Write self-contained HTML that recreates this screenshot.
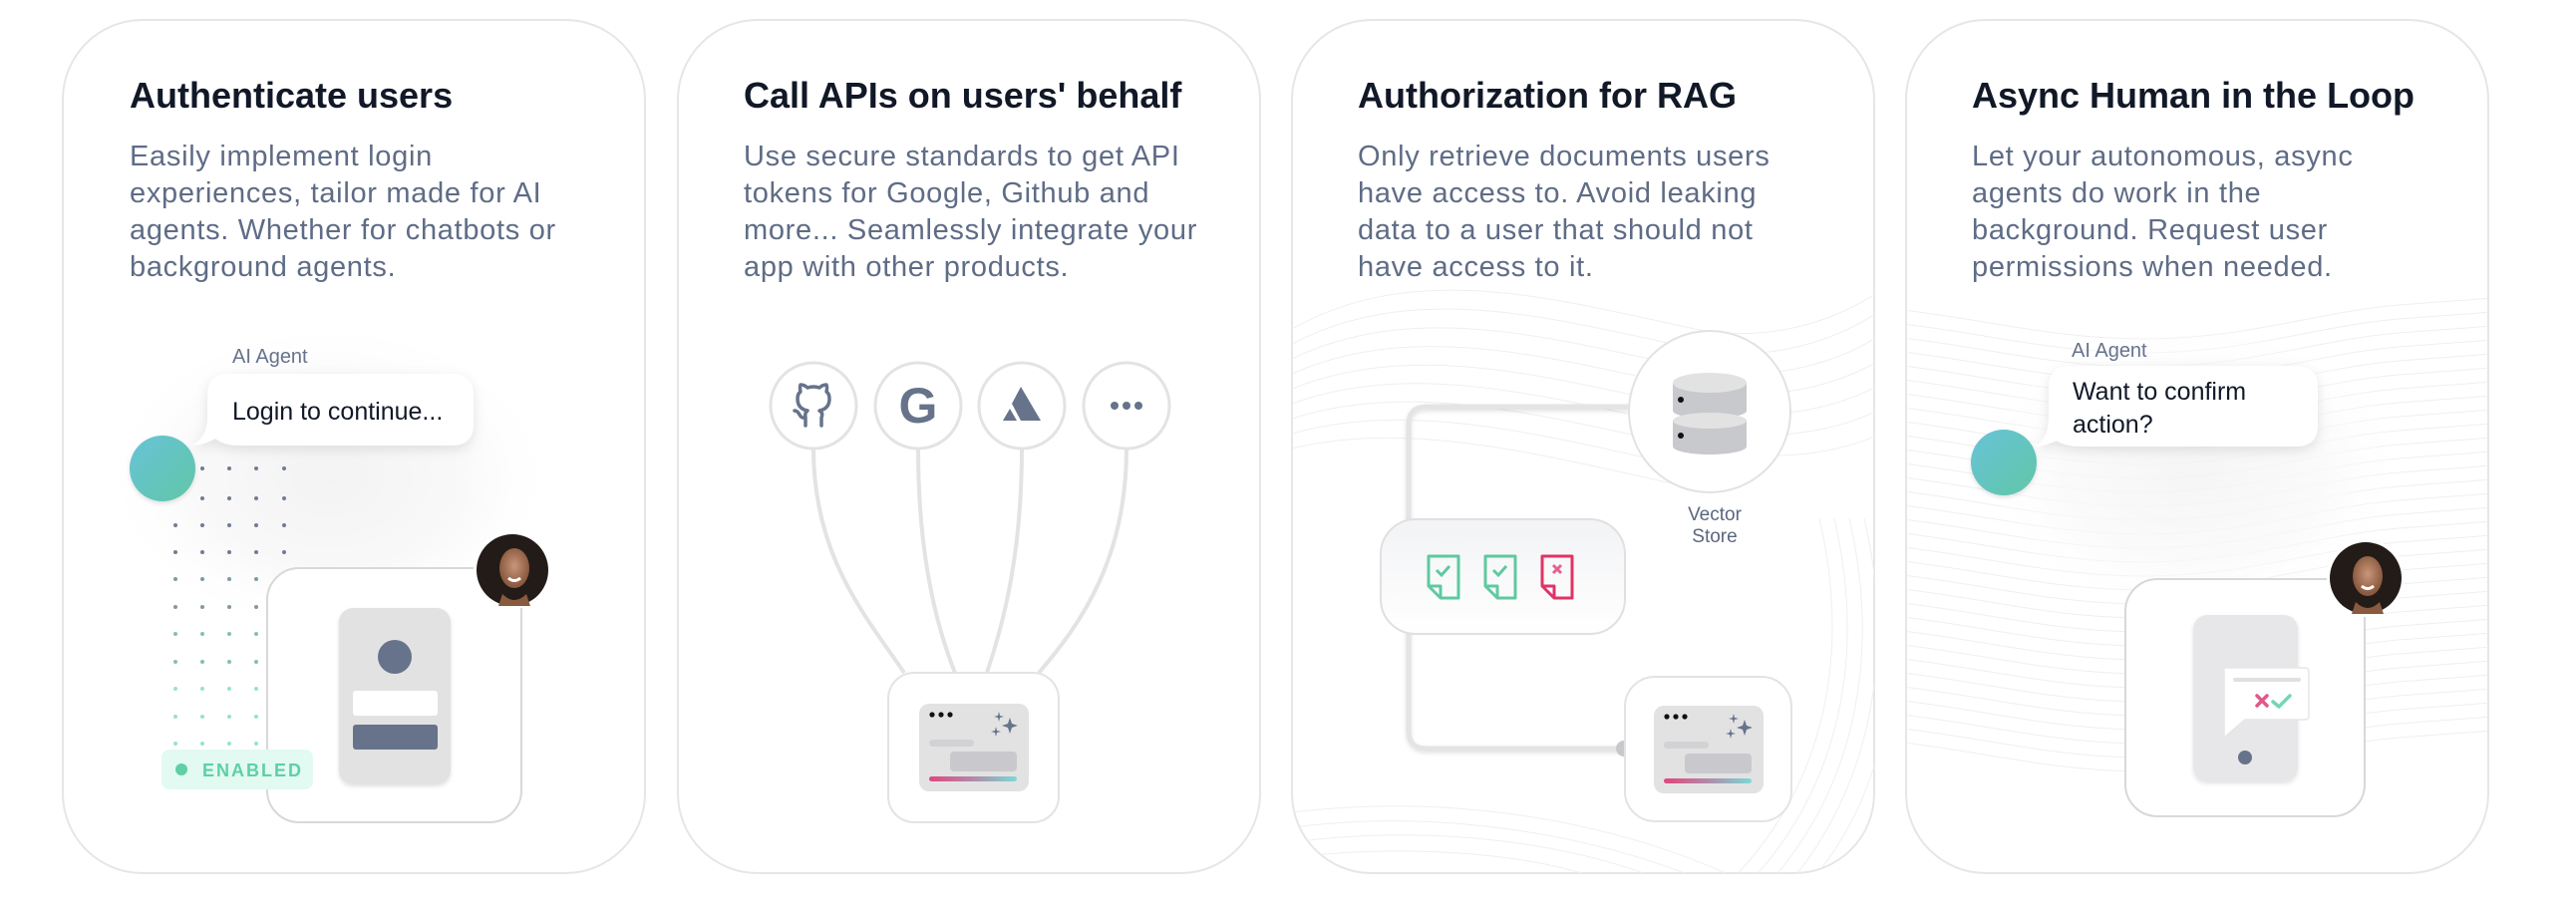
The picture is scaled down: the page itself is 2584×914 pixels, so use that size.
<!DOCTYPE html>
<html><head><meta charset="utf-8">
<style>
html,body{margin:0;padding:0;background:#fff;}
svg{display:block;}
text{font-family:"Liberation Sans",sans-serif;}
.t{font-size:36px;font-weight:bold;fill:#111827;}
.d{font-size:29px;fill:#5f6c86;letter-spacing:0.7px;}
</style></head>
<body>
<svg width="2584" height="914" viewBox="0 0 2584 914" xmlns="http://www.w3.org/2000/svg">
<defs>
  <linearGradient id="teal" x1="0" y1="0" x2="1" y2="1"><stop offset="0" stop-color="#67c3d8"/><stop offset="1" stop-color="#62c6a6"/></linearGradient>
  <linearGradient id="bar" x1="0" y1="0" x2="1" y2="0"><stop offset="0" stop-color="#e1467c"/><stop offset="0.5" stop-color="#b08aa8"/><stop offset="1" stop-color="#7dd8d8"/></linearGradient>
  <linearGradient id="docbox" x1="0" y1="0" x2="0" y2="1"><stop offset="0" stop-color="#f2f3f5"/><stop offset="1" stop-color="#ffffff"/></linearGradient>
  <radialGradient id="glow" cx="0.5" cy="0.5" r="0.5"><stop offset="0" stop-color="#f3f3f3"/><stop offset="0.6" stop-color="#f9f9f9"/><stop offset="1" stop-color="#ffffff" stop-opacity="0"/></radialGradient>
  <radialGradient id="face" cx="0.5" cy="0.45" r="0.5"><stop offset="0" stop-color="#c99679"/><stop offset="1" stop-color="#8a5a40"/></radialGradient>
  <filter id="sh" x="-20%" y="-30%" width="140%" height="170%"><feDropShadow dx="0" dy="4" stdDeviation="6" flood-color="#000" flood-opacity="0.10"/></filter>
  <filter id="sh2" x="-20%" y="-20%" width="140%" height="140%"><feDropShadow dx="0" dy="2" stdDeviation="2" flood-color="#000" flood-opacity="0.12"/></filter>
  <clipPath id="c3"><rect x="1296" y="20" width="584" height="856" rx="80"/></clipPath>
  <clipPath id="c4"><rect x="1912" y="20" width="584" height="856" rx="80"/></clipPath>
  <g id="widget">
    <rect x="0" y="0" width="110" height="88" rx="10" fill="#e2e2e3"/>
    <circle cx="13" cy="11" r="2.6" fill="#111"/><circle cx="22" cy="11" r="2.6" fill="#111"/><circle cx="31" cy="11" r="2.6" fill="#111"/>
    <path d="M91,14 L93,20 L99,22 L93,24 L91,30 L89,24 L83,22 L89,20Z" fill="#66738b"/>
    <path d="M80,8 L81,12 L85,13 L81,14 L80,18 L79,14 L75,13 L79,12Z" fill="#66738b"/>
    <path d="M77,23 L78,27 L82,28 L78,29 L77,33 L76,29 L72,28 L76,27Z" fill="#66738b"/>
    <rect x="10" y="36" width="45" height="7" rx="3.5" fill="#d2d2d5"/>
    <rect x="31" y="48" width="67" height="20" rx="4" fill="#c9c9cd"/>
    <rect x="10" y="73" width="88" height="5" rx="2.5" fill="url(#bar)"/>
  </g>
  <g id="avatar">
    <circle cx="0" cy="0" r="39" fill="#fff"/>
    <circle cx="0" cy="0" r="36" fill="#231b17"/>
    <ellipse cx="2" cy="-2" rx="15" ry="20" fill="url(#face)"/>
    <path d="M-4,8 Q2,13 8,8" stroke="#fff" stroke-width="3" fill="none"/>
    <path d="M-10,24 Q2,36 14,24 L18,36 L-14,36Z" fill="#8a5a40"/>
  </g>
  <g id="doc">
    <path d="M2,2 H32 V44 H14 L2,32 Z M2,32 H14 V44" fill="none" stroke-width="3" stroke-linejoin="round"/>
  </g>
  <path id="wave4" d="M1900,0 C1990,10 2060,30 2150,30 C2260,30 2330,0 2420,-5 C2460,-8 2490,-10 2510,-12" fill="none" stroke="#efefef" stroke-width="1"/>
</defs>

<!-- Cards -->
<rect x="63" y="20" width="584" height="856" rx="80" fill="#fff" stroke="#e6e6e6" stroke-width="2"/>
<rect x="680" y="20" width="584" height="856" rx="80" fill="#fff" stroke="#e6e6e6" stroke-width="2"/>
<rect x="1296" y="20" width="584" height="856" rx="80" fill="#fff" stroke="#e6e6e6" stroke-width="2"/>
<rect x="1912" y="20" width="584" height="856" rx="80" fill="#fff" stroke="#e6e6e6" stroke-width="2"/>

<!-- Card 3 background waves -->
<g clip-path="url(#c3)" fill="none" stroke="#efefef" stroke-width="1">
  <path d="M1296,330 C1420,260 1560,300 1700,330 C1800,350 1880,300 1900,280"/>
  <path d="M1296,345 C1420,280 1560,320 1700,350 C1800,370 1880,320 1900,300"/>
  <path d="M1296,360 C1420,300 1560,340 1700,370 C1800,390 1880,345 1900,325"/>
  <path d="M1296,375 C1420,320 1560,360 1700,390 C1800,410 1880,370 1900,350"/>
  <path d="M1296,390 C1420,340 1560,380 1700,410 C1800,430 1880,395 1900,375"/>
  <path d="M1296,405 C1420,360 1560,400 1700,430 C1800,450 1880,420 1900,400"/>
  <path d="M1296,420 C1420,380 1560,420 1700,450 C1800,470 1880,445 1900,425"/>
  <path d="M1296,435 C1420,400 1560,440 1700,470"/>
  <path d="M1296,450 C1420,420 1560,460 1700,490"/>
  <path d="M1760,880 C1850,780 1870,650 1840,520"/>
  <path d="M1780,880 C1865,780 1885,650 1855,520"/>
  <path d="M1800,880 C1880,780 1900,650 1870,520"/>
  <path d="M1820,880 C1895,790 1915,660 1885,530"/>
  <path d="M1840,880 C1905,800 1925,680 1900,560"/>
  <path d="M1740,880 C1835,780 1855,650 1825,520"/>
  <path d="M1296,830 C1450,810 1600,840 1700,880"/>
  <path d="M1296,845 C1450,825 1580,850 1660,880"/>
  <path d="M1296,860 C1430,845 1540,860 1600,880"/>
  <path d="M1296,815 C1460,795 1620,825 1740,880"/>
</g>

<!-- Card 4 background waves -->
<g clip-path="url(#c4)">
  <use href="#wave4" transform="translate(0,310)"/><use href="#wave4" transform="translate(0,324)"/>
  <use href="#wave4" transform="translate(0,338)"/><use href="#wave4" transform="translate(0,352)"/>
  <use href="#wave4" transform="translate(0,366)"/><use href="#wave4" transform="translate(0,380)"/>
  <use href="#wave4" transform="translate(0,394)"/><use href="#wave4" transform="translate(0,408)"/>
  <use href="#wave4" transform="translate(0,422)"/><use href="#wave4" transform="translate(0,436)"/>
  <use href="#wave4" transform="translate(0,450)"/><use href="#wave4" transform="translate(0,464)"/>
  <use href="#wave4" transform="translate(0,478)"/><use href="#wave4" transform="translate(0,492)"/>
  <use href="#wave4" transform="translate(0,506)"/><use href="#wave4" transform="translate(0,520)"/>
  <use href="#wave4" transform="translate(0,534)"/><use href="#wave4" transform="translate(0,548)"/>
  <use href="#wave4" transform="translate(0,562)"/><use href="#wave4" transform="translate(0,576)"/>
  <use href="#wave4" transform="translate(0,590)"/><use href="#wave4" transform="translate(0,604)"/>
  <use href="#wave4" transform="translate(0,618)"/><use href="#wave4" transform="translate(0,632)"/>
  <use href="#wave4" transform="translate(0,646)"/><use href="#wave4" transform="translate(0,660)"/>
  <use href="#wave4" transform="translate(0,674)"/><use href="#wave4" transform="translate(0,688)"/>
  <use href="#wave4" transform="translate(0,702)"/><use href="#wave4" transform="translate(0,716)"/>
  <use href="#wave4" transform="translate(0,730)"/><use href="#wave4" transform="translate(0,744)"/>
</g>

<!-- Titles & descriptions -->
<text class="t" x="130" y="108">Authenticate users</text>
<text class="d" x="130" y="166">Easily implement login</text>
<text class="d" x="130" y="203">experiences, tailor made for AI</text>
<text class="d" x="130" y="240">agents. Whether for chatbots or</text>
<text class="d" x="130" y="277">background agents.</text>

<text class="t" x="746" y="108">Call APIs on users' behalf</text>
<text class="d" x="746" y="166">Use secure standards to get API</text>
<text class="d" x="746" y="203">tokens for Google, Github and</text>
<text class="d" x="746" y="240">more... Seamlessly integrate your</text>
<text class="d" x="746" y="277">app with other products.</text>

<text class="t" x="1362" y="108">Authorization for RAG</text>
<text class="d" x="1362" y="166">Only retrieve documents users</text>
<text class="d" x="1362" y="203">have access to. Avoid leaking</text>
<text class="d" x="1362" y="240">data to a user that should not</text>
<text class="d" x="1362" y="277">have access to it.</text>

<text class="t" x="1978" y="108">Async Human in the Loop</text>
<text class="d" x="1978" y="166">Let your autonomous, async</text>
<text class="d" x="1978" y="203">agents do work in the</text>
<text class="d" x="1978" y="240">background. Request user</text>
<text class="d" x="1978" y="277">permissions when needed.</text>

<!-- ===== Card 1 illustration ===== -->
<ellipse cx="330" cy="480" rx="230" ry="160" fill="url(#glow)"/>
<g>
  <g fill="#6f7c92">
    <circle cx="203" cy="470" r="2"/><circle cx="230" cy="470" r="2"/><circle cx="257" cy="470" r="2"/><circle cx="285" cy="470" r="2"/>
    <circle cx="203" cy="500" r="2"/><circle cx="230" cy="500" r="2"/><circle cx="257" cy="500" r="2"/><circle cx="285" cy="500" r="2"/>
    <circle cx="176" cy="527" r="2"/><circle cx="203" cy="527" r="2"/><circle cx="230" cy="527" r="2"/><circle cx="257" cy="527" r="2"/><circle cx="285" cy="527" r="2"/>
    <circle cx="176" cy="554" r="2"/><circle cx="203" cy="554" r="2"/><circle cx="230" cy="554" r="2"/><circle cx="257" cy="554" r="2"/><circle cx="285" cy="554" r="2"/>
  </g>
  <g fill="#7e9aa6">
    <circle cx="176" cy="581" r="2"/><circle cx="203" cy="581" r="2"/><circle cx="230" cy="581" r="2"/><circle cx="257" cy="581" r="2"/>
    <circle cx="176" cy="609" r="2"/><circle cx="203" cy="609" r="2"/><circle cx="230" cy="609" r="2"/><circle cx="257" cy="609" r="2"/>
  </g>
  <g fill="#84bfb5">
    <circle cx="176" cy="636" r="2"/><circle cx="203" cy="636" r="2"/><circle cx="230" cy="636" r="2"/><circle cx="257" cy="636" r="2"/>
    <circle cx="176" cy="664" r="2"/><circle cx="203" cy="664" r="2"/><circle cx="230" cy="664" r="2"/><circle cx="257" cy="664" r="2"/>
  </g>
  <g fill="#95e3cc">
    <circle cx="176" cy="691" r="2"/><circle cx="203" cy="691" r="2"/><circle cx="230" cy="691" r="2"/><circle cx="257" cy="691" r="2"/>
    <circle cx="176" cy="719" r="2"/><circle cx="203" cy="719" r="2"/><circle cx="230" cy="719" r="2"/><circle cx="257" cy="719" r="2"/>
    <circle cx="176" cy="746" r="2"/><circle cx="203" cy="746" r="2"/><circle cx="230" cy="746" r="2"/><circle cx="257" cy="746" r="2"/>
  </g>
</g>
<text x="233" y="364" font-size="20" fill="#66738b">AI Agent</text>
<path d="M230,375 H453 Q475,375 475,397 V425 Q475,447 453,447 H240 Q225,447 216,440 Q205,446 193,447 Q208,438 208,420 V397 Q208,375 230,375Z" fill="#fff" filter="url(#sh)"/>
<text x="233" y="421" font-size="25" fill="#111827">Login to continue...</text>
<circle cx="163" cy="470" r="33" fill="url(#teal)" filter="url(#sh2)"/>
<rect x="268" y="570" width="255" height="255" rx="32" fill="#fff" fill-opacity="0.92" stroke="#d8d8d8" stroke-width="2"/>
<rect x="340" y="610" width="112" height="177" rx="14" fill="#e2e2e2" filter="url(#sh2)"/>
<circle cx="396" cy="659" r="17" fill="#66738b"/>
<rect x="354" y="693" width="85" height="25" rx="3" fill="#fff"/>
<rect x="354" y="727" width="85" height="25" rx="3" fill="#66738b"/>
<use href="#avatar" transform="translate(514,572)"/>
<rect x="162" y="752" width="152" height="40" rx="8" fill="#e2faf2"/>
<circle cx="182" cy="772" r="6" fill="#5fcfa5"/>
<text x="203" y="779" font-size="18" font-weight="bold" fill="#5fcfa5" letter-spacing="2">ENABLED</text>

<!-- ===== Card 2 illustration ===== -->
<g fill="none" stroke="#e3e3e3" stroke-width="4">
  <path d="M816,450 C816,560 870,620 907,675"/>
  <path d="M921,450 C921,560 940,630 958,675"/>
  <path d="M1025,450 C1025,560 1005,630 990,675"/>
  <path d="M1130,450 C1130,560 1085,625 1042,675"/>
</g>
<g fill="#fff" stroke="#e3e3e3" stroke-width="3">
  <circle cx="816" cy="407" r="43"/><circle cx="921" cy="407" r="43"/>
  <circle cx="1025" cy="407" r="43"/><circle cx="1130" cy="407" r="43"/>
</g>
<path d="M808,427 V419 Q804,420 802,416 Q800,412 797,412 M824,427 V419 Q826,414 822,412 Q832,410 832,400 Q832,395 829,393 Q830,389 829,386 Q825,386 822,389 Q816,387 810,389 Q807,386 803,386 Q802,389 803,393 Q800,395 800,400 Q800,410 810,412 Q807,414 808,419" fill="none" stroke="#66738b" stroke-width="3.5" stroke-linejoin="round" stroke-linecap="round"/>
<text x="921" y="424" font-size="50" font-weight="bold" fill="#66738b" text-anchor="middle">G</text>
<path d="M1024,388 L1044,422 H1024 L1015,405Z" fill="#66738b"/>
<path d="M1013,410 L1020,422 H1006Z" fill="#66738b"/>
<circle cx="1118" cy="407" r="4" fill="#66738b"/><circle cx="1130" cy="407" r="4" fill="#66738b"/><circle cx="1142" cy="407" r="4" fill="#66738b"/>
<rect x="891" y="675" width="171" height="150" rx="26" fill="#fff" stroke="#e3e3e3" stroke-width="2"/>
<use href="#widget" transform="translate(922,706)"/>

<!-- ===== Card 3 illustration ===== -->
<path d="M1634,408 H1431 Q1413,408 1413,426 V733 Q1413,751 1431,751 H1629" fill="none" stroke="#e4e4e4" stroke-width="5" filter="url(#sh2)"/>
<circle cx="1629" cy="751" r="8" fill="#c8c8cc"/>
<circle cx="1715" cy="413" r="81" fill="#fff" stroke="#e2e2e2" stroke-width="2"/>
<path d="M1678,384 V412 A37,8 0 0 0 1752,412 V384Z" fill="#c8c9cc"/>
<ellipse cx="1715" cy="384" rx="37" ry="10" fill="#e2e2e2"/>
<path d="M1678,422 V448 A37,8 0 0 0 1752,448 V422Z" fill="#c8c9cc"/>
<path d="M1678,422 A37,8 0 0 0 1752,422 A37,8 0 0 0 1678,422Z" fill="#e2e2e2"/>
<circle cx="1686" cy="401" r="3" fill="#111"/><circle cx="1686" cy="437" r="3" fill="#111"/>
<text x="1720" y="522" font-size="19" fill="#5b6780" text-anchor="middle">Vector</text>
<text x="1720" y="544" font-size="19" fill="#5b6780" text-anchor="middle">Store</text>
<rect x="1385" y="521" width="245" height="115" rx="35" fill="url(#docbox)" stroke="#e0e0e0" stroke-width="2"/>
<use href="#doc" transform="translate(1431,556)" stroke="#5fc9a0"/>
<path d="M1441,572 L1446,577 L1454,568" fill="none" stroke="#5fc9a0" stroke-width="3"/>
<use href="#doc" transform="translate(1488,556)" stroke="#5fc9a0"/>
<path d="M1498,572 L1503,577 L1511,568" fill="none" stroke="#5fc9a0" stroke-width="3"/>
<use href="#doc" transform="translate(1545,556)" stroke="#de3466"/>
<path d="M1558,567 L1566,575 M1566,567 L1558,575" fill="none" stroke="#e4638c" stroke-width="3"/>
<rect x="1630" y="679" width="167" height="145" rx="30" fill="#fff" stroke="#e3e3e3" stroke-width="2"/>
<use href="#widget" transform="translate(1659,708)"/>

<!-- ===== Card 4 illustration ===== -->
<ellipse cx="2200" cy="470" rx="220" ry="150" fill="url(#glow)" opacity="0.8"/>
<text x="2078" y="358" font-size="20" fill="#66738b">AI Agent</text>
<path d="M2077,367 H2303 Q2325,367 2325,389 V426 Q2325,448 2303,448 H2087 Q2072,448 2063,442 Q2053,447 2042,448 Q2055,438 2055,420 V389 Q2055,367 2077,367Z" fill="#fff" filter="url(#sh)"/>
<text x="2079" y="401" font-size="25" fill="#111827">Want to confirm</text>
<text x="2079" y="434" font-size="25" fill="#111827">action?</text>
<circle cx="2010" cy="464" r="33" fill="url(#teal)" filter="url(#sh2)"/>
<rect x="2132" y="581" width="240" height="238" rx="32" fill="#fff" stroke="#d8d8d8" stroke-width="2"/>
<rect x="2200" y="617" width="105" height="167" rx="14" fill="#e7e7e9" filter="url(#sh2)"/>
<path d="M2231,670 H2312 Q2316,670 2316,674 V718 Q2316,722 2312,722 H2252 L2231,740Z" fill="#fff" stroke="#e6e6e6" stroke-width="1.5"/>
<rect x="2240" y="680" width="68" height="4" rx="2" fill="#e0e0e0"/>
<path d="M2264,698 L2274,708 M2274,698 L2264,708" stroke="#e0588a" stroke-width="3.5" stroke-linecap="round"/>
<path d="M2280,704 L2286,709 L2297,698" fill="none" stroke="#74d6b5" stroke-width="3.5" stroke-linecap="round" stroke-linejoin="round"/>
<circle cx="2252" cy="760" r="7" fill="#66738b"/>
<use href="#avatar" transform="translate(2373,580)"/>
</svg>
</body></html>
